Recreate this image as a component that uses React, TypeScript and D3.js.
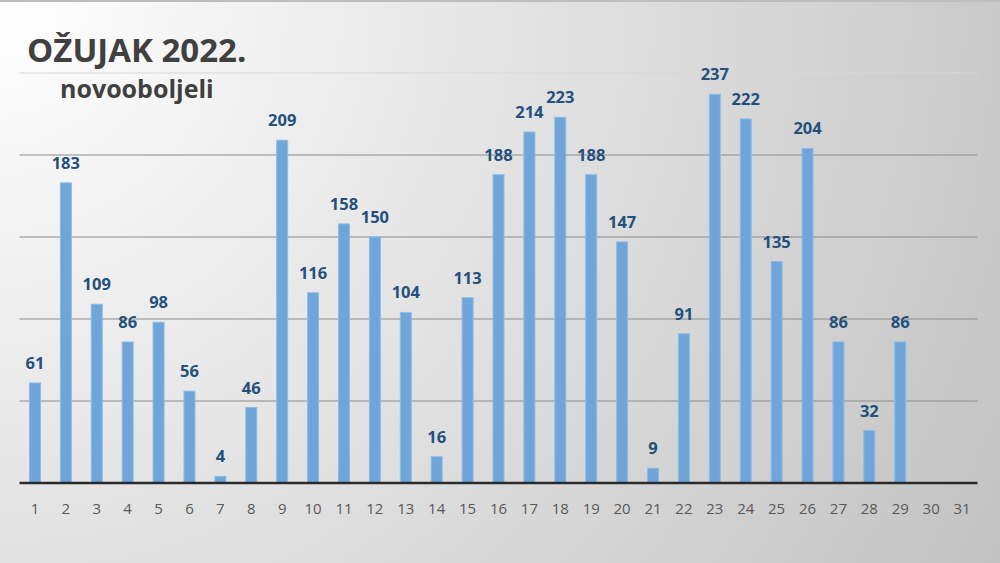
import React, { useEffect, useRef } from "react";
import * as d3 from "d3";

const days: string[] = Array.from({ length: 31 }, (_, i) => String(i + 1));
const cases: (number | null)[] = [
  61, 183, 109, 86, 98, 56, 4, 46, 209, 116, 158, 150, 104, 16, 113, 188, 214,
  223, 188, 147, 9, 91, 237, 222, 135, 204, 86, 32, 86, null, null,
];
const gridTicks: number[] = [50, 100, 150, 200, 250];
const title = "OŽUJAK 2022.";
const subtitle = "novooboljeli";

const App = () => {
  const svgRef = useRef<SVGSVGElement | null>(null);

  useEffect(() => {
    const svg = d3.select(svgRef.current);
    svg.selectAll("*").remove();

    const width = 1000;
    const height = 563;
    const plot = { left: 19.5, right: 977.5, top: 73, bottom: 483 };

    // background gradient
    const defs = svg.append("defs");
    const grad = defs
      .append("radialGradient")
      .attr("id", "bg")
      .attr("cx", "0")
      .attr("cy", "0")
      .attr("r", "1.15")
      .attr("gradientTransform", "scale(1, 1.78)");
    grad.append("stop").attr("offset", "0%").attr("stop-color", "#ffffff");
    grad.append("stop").attr("offset", "100%").attr("stop-color", "#c2c2c2");

    svg
      .append("rect")
      .attr("width", width)
      .attr("height", height)
      .attr("fill", "url(#bg)");
    svg
      .append("line")
      .attr("x1", 0)
      .attr("x2", width)
      .attr("y1", 1)
      .attr("y2", 1)
      .attr("stroke", "#bdbdbd")
      .attr("stroke-width", 2);

    const x = d3
      .scaleBand()
      .domain(days)
      .range([plot.left, plot.right])
      .paddingInner(0.645)
      .paddingOuter(0.3225);

    const y = d3.scaleLinear().domain([0, 250]).range([plot.bottom, plot.top]);

    const g = svg.append("g");

    g.selectAll(".grid")
      .data(gridTicks)
      .enter()
      .append("line")
      .attr("x1", plot.left)
      .attr("x2", plot.right)
      .attr("y1", (d) => y(d))
      .attr("y2", (d) => y(d))
      .attr("stroke", (d) => (d === 250 ? "#d8d8d8" : "#8c8c8c"))
      .attr("stroke-width", 1.2);

    const data = days
      .map((d, i) => ({ day: d, value: cases[i] }))
      .filter((d) => d.value != null) as { day: string; value: number }[];

    g.selectAll(".bar")
      .data(data)
      .enter()
      .append("rect")
      .attr("class", "bar")
      .attr("x", (d) => x(d.day)!)
      .attr("y", (d) => y(d.value))
      .attr("width", x.bandwidth())
      .attr("height", (d) => plot.bottom - y(d.value))
      .attr("fill", "#6fa5d8")
      .attr("stroke", "#8dbbe6")
      .attr("stroke-width", 1);

    g.selectAll(".label")
      .data(data)
      .enter()
      .append("text")
      .attr("x", (d) => x(d.day)! + x.bandwidth() / 2)
      .attr("y", (d) => y(d.value) - 14)
      .attr("text-anchor", "middle")
      .attr("font-family", "'Open Sans', sans-serif")
      .attr("font-weight", "bold")
      .attr("font-size", 16.5)
      .attr("fill", "#24507c")
      .text((d) => d.value);

    // baseline
    g.append("line")
      .attr("x1", plot.left)
      .attr("x2", plot.right)
      .attr("y1", y(0))
      .attr("y2", y(0))
      .attr("stroke", "#2b2b2b")
      .attr("stroke-width", 2.5);

    g.selectAll(".tick-label")
      .data(days)
      .enter()
      .append("text")
      .attr("x", (d) => x(d)! + x.bandwidth() / 2)
      .attr("y", 514)
      .attr("text-anchor", "middle")
      .attr("font-family", "'Open Sans', sans-serif")
      .attr("font-size", 15)
      .attr("fill", "#595959")
      .text((d) => d);

    svg
      .append("text")
      .attr("x", 27)
      .attr("y", 62)
      .attr("font-family", "'Open Sans', sans-serif")
      .attr("font-weight", "bold")
      .attr("font-size", 33)
      .attr("fill", "#404040")
      .text(title);

    svg
      .append("text")
      .attr("x", 60)
      .attr("y", 98)
      .attr("font-family", "'Open Sans', sans-serif")
      .attr("font-weight", "bold")
      .attr("font-size", 25)
      .attr("fill", "#404040")
      .text(subtitle);
  }, []);

  return (
    <div style={{ position: "absolute", left: 0, top: 0 }}>
      <svg ref={svgRef} width={1000} height={563} style={{ display: "block" }} />
    </div>
  );
};

export default App;
